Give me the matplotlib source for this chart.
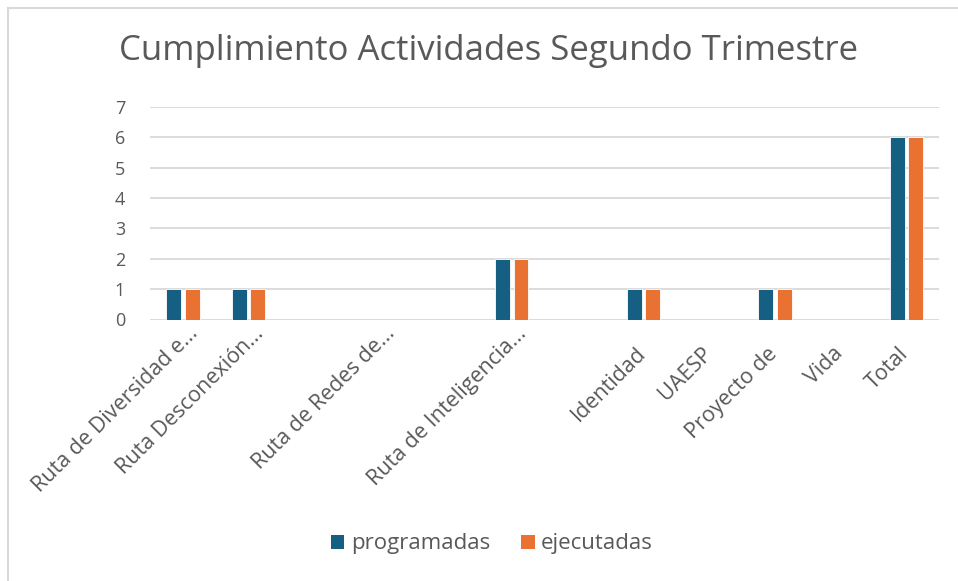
import numpy as np
import matplotlib
matplotlib.use("Agg")
import matplotlib.pyplot as plt
from matplotlib.lines import Line2D
from matplotlib.patches import Patch
from matplotlib.transforms import ScaledTranslation

categorias = ["Ruta de Diversidad e...", "Ruta Desconexión...", "", "Ruta de Redes de...", "",
              "Ruta de Inteligencia...", "", "Identidad", "UAESP", "Proyecto de", "Vida", "Total"]
programadas = [1, 1, 0, 0, 0, 2, 0, 1, 0, 1, 0, 6]
ejecutadas = [1, 1, 0, 0, 0, 2, 0, 1, 0, 1, 0, 6]
series = ["programadas", "ejecutadas"]
colores = ["#156082", "#E97132"]

plt.rcParams["font.family"] = ["Open Sans", "DejaVu Sans"]
texto = "#595959"

W, H = 958, 581
fig = plt.figure(figsize=(W / 100, H / 100), dpi=100)
ax = fig.add_axes([150 / W, 1 - 319.5 / H, (939.5 - 150) / W, (319.5 - 106.7) / H])

x = np.arange(len(categorias))
bw = 0.225
ax.bar(x - 0.14, programadas, bw, color=colores[0], edgecolor="white", linewidth=0.6, zorder=3)
ax.bar(x + 0.14, ejecutadas, bw, color=colores[1], edgecolor="white", linewidth=0.6, zorder=3)

ax.set_xlim(-0.5, len(categorias) - 0.5)
ax.set_ylim(0, 7)
ax.set_yticks(range(0, 8))
ax.yaxis.grid(True, color="#d9d9d9", linewidth=1.3, zorder=0)
for s in ax.spines.values():
    s.set_visible(False)
ax.tick_params(axis="y", length=0, pad=18, labelsize=13, labelcolor=texto)
ax.tick_params(axis="x", length=0, labelsize=15.5, labelcolor=texto, pad=0)
ax.set_xticks(x)
ax.set_xticklabels(categorias, rotation=45, ha="right", va="baseline", rotation_mode="anchor")
# las etiquetas truncadas (con "...") quedan más arriba, como en Excel
for lbl in ax.get_xticklabels():
    if lbl.get_text().endswith("..."):
        dx, dy = 15.5, 15
    else:
        dx, dy = 3, 35
    lbl.set_transform(lbl.get_transform() + ScaledTranslation(dx / 100, -dy / 100, fig.dpi_scale_trans))

fig.text(489 / W, 1 - 51 / H, "Cumplimiento Actividades Segundo Trimestre",
         ha="center", va="center", fontsize=25, color=texto)

handles = [Patch(facecolor=c, edgecolor="none") for c in colores]
fig.legend(handles, series, loc="center", bbox_to_anchor=(492 / W, 1 - 544 / H), ncol=2,
           frameon=False, fontsize=16, labelcolor=texto, handlelength=0.6, handleheight=0.6,
           handletextpad=0.3, columnspacing=1.4)

# marco del gráfico (solo se ve arriba e izquierda)
fig.add_artist(Line2D([8 / W, 1], [1 - 8 / H, 1 - 8 / H], color="#d9d9d9", linewidth=1.5))
fig.add_artist(Line2D([8 / W, 8 / W], [0, 1 - 8 / H], color="#d9d9d9", linewidth=1.5))

fig.savefig("out.png", dpi=100)
